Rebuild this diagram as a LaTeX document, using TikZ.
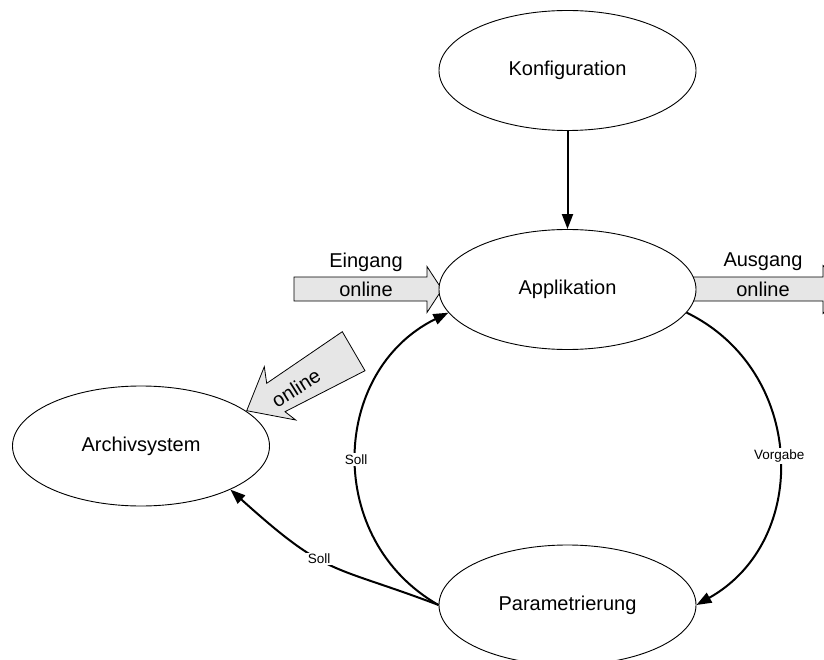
\documentclass[tikz,border=0pt]{standalone}
\usepackage{fontspec}
\setmainfont{Liberation Sans}
\usetikzlibrary{shapes.geometric,arrows.meta}
\definecolor{arrowgray}{RGB}{230,230,230}
\begin{document}
\begin{tikzpicture}[x=1pt,y=-1pt,
  state/.style={ellipse, draw, line width=0.9pt, fill=white, minimum width=257pt, minimum height=120pt, inner sep=0pt, font=\fontsize{20}{24}\selectfont},
  conn/.style={line width=2pt, -{Triangle[length=15pt,width=11pt]}},
  lbl/.style={fill=white, inner sep=1.5pt, font=\fontsize{13.5}{16}\selectfont},
  bigarrow/.style={draw, line width=0.8pt, fill=arrowgray, line join=miter},
  atext/.style={font=\fontsize{20}{24}\selectfont, inner sep=0pt}]
\useasboundingbox (0,0) rectangle (824,660);
\begin{scope}
\clip (0,0) rectangle (824,660);
\fill[white] (0,0) rectangle (824,660);
% big input/output arrows
\draw[bigarrow] (294,277) -- (427,277) -- (427,266.5) -- (442,289.5) -- (427,312.5) -- (427,301) -- (294,301) -- cycle;
\node[atext] (eing) at (366,262) {Eingang};
\node[atext] (eingon) at (366,289) {online};
\draw[bigarrow] (690,277) -- (823,277) -- (823,265.5) -- (847,289.5) -- (823,313.5) -- (823,301) -- (690,301) -- cycle;
\node[atext] (ausg) at (763,262) {Ausgang};
\node[atext] (ausgon) at (763,289) {online};
\draw[bigarrow] (246.7,410.7) -- (264.3,366.7) -- (266.7,383.3) -- (342.3,331.7) -- (365,370.7) -- (285,411.7) -- (295.7,420) -- cycle;
\node[atext, rotate=32] (archon) at (296,388) {online};
% states
\node[state] (konf) at (567.5,70.5) {Konfiguration};
\node[state] (app) at (567.5,289.5) {Applikation};
\node[state] (arch) at (141,446) {Archivsystem};
\node[state] (param) at (567.5,605) {Parametrierung};
% connectors
\draw[conn] (konf.south) -- (app.north);
\draw[conn] (param.west) .. controls (324,540) and (330,371) .. node[lbl, pos=0.49] {Soll} (app.191.6);
\draw[conn] (app.-11.3) .. controls (805,370) and (812,540) .. node[lbl, pos=0.5] {Vorgabe} (param.east);
\draw[conn] (param.west) .. controls (329,563.5) and (328,577.5) .. node[lbl, pos=0.57] {Soll} (arch.-26.8);
\end{scope}
\end{tikzpicture}
\end{document}
